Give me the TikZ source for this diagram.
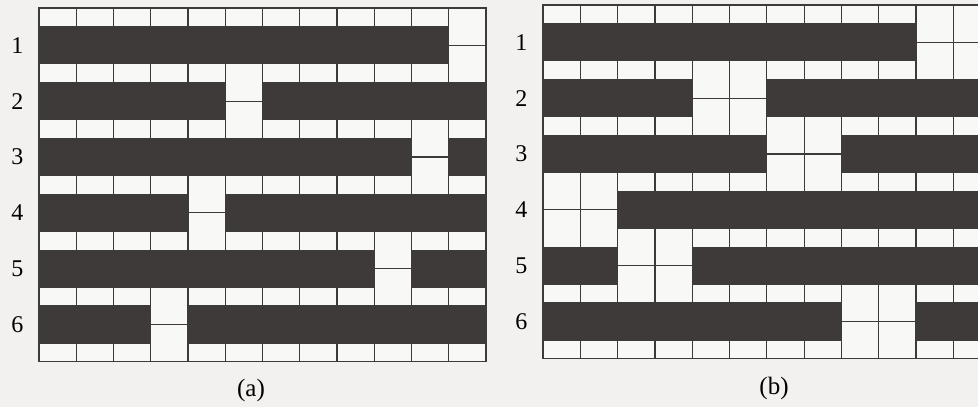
\documentclass[tikz,border=0pt]{standalone}
\usepackage{fontspec}
\setmainfont{Liberation Serif}
\usetikzlibrary{positioning}
\definecolor{bar}{RGB}{62, 58, 58}
\definecolor{rule}{RGB}{60, 58, 58}
\definecolor{paper}{RGB}{242, 241, 239}
\definecolor{cell}{RGB}{248, 248, 247}

\tikzset{
  barfill/.style={fill=bar, draw=rule, line width=1.2pt},
  gridline/.style={draw=rule, line width=1.2pt},
  rowlabel/.style={font=\fontsize{24}{26}\selectfont, inner sep=0pt},
}

% one panel: #1 name prefix, #2 gap width, #3 row/gap column list
\newcommand{\weavepanel}[3]{%
  \fill[cell] (0,0) rectangle (12,-9.5);
  \foreach \c in {1,...,11} \draw[gridline] (\c,0) -- (\c,-9.5);
  \foreach \r/\g in {#3} {
    \pgfmathsetmacro{\bartop}{-0.5-1.5*(\r-1)}
    \pgfmathsetmacro{\barbot}{\bartop-1}
    \pgfmathsetmacro{\barmid}{\bartop-0.5}
    \pgfmathtruncatemacro{\gapbeg}{\g-1}
    \pgfmathtruncatemacro{\gapend}{\g-1+#2}
    \draw[gridline] (\gapbeg,\barmid) -- (\gapend,\barmid);
    \ifnum\g>1 \draw[barfill] (0,\bartop) rectangle (\gapbeg,\barbot); \fi
    \ifnum\gapend<12 \draw[barfill] (\gapend,\bartop) rectangle (12,\barbot); \fi
    \node[rowlabel] (#1\r) at (-0.58,\barmid) {\r};
  }
  \draw[gridline] (0,0) rectangle (12,-9.5);
}

\begin{document}
\begin{tikzpicture}[font=\fontsize{25}{28}\selectfont]
  \useasboundingbox (0,0) rectangle (978pt,-407pt);
  \clip (0,0) rectangle (978pt,-407pt);
  \fill[paper] (0,0) rectangle (978pt,-407pt);

  % single gaps
  \begin{scope}[shift={(39pt,-8pt)}, x=37.25pt, y=37.25pt]
    \weavepanel{a}{1}{1/12, 2/6, 3/11, 4/5, 5/10, 6/4}
  \end{scope}

  % double gaps
  \begin{scope}[shift={(543pt,-5pt)}, x=37.3pt, y=37.25pt]
    \weavepanel{b}{2}{1/11, 2/5, 3/7, 4/1, 5/3, 6/9}
  \end{scope}

  \node (capa) at (251pt,-390pt) {(a)};
  \node (capb) at (774pt,-388pt) {(b)};
\end{tikzpicture}
\end{document}
